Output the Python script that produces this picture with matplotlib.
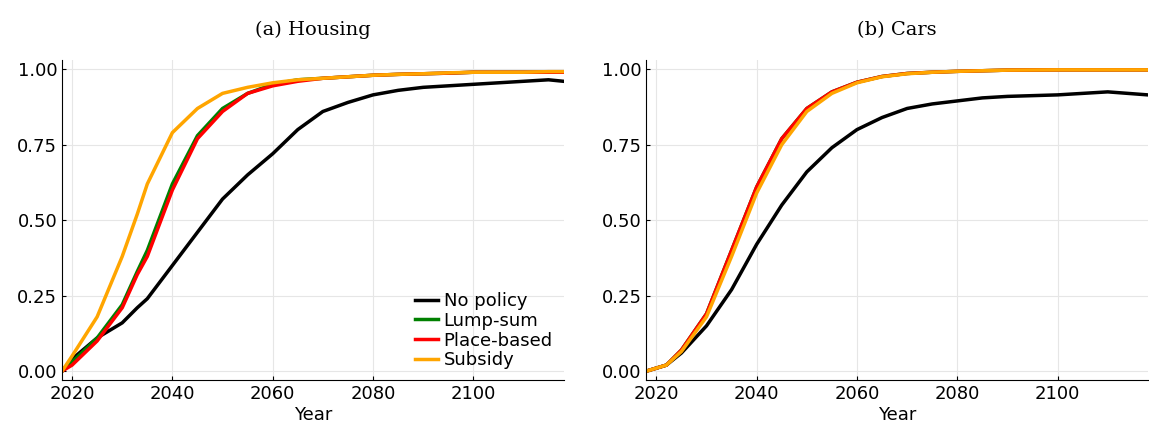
import matplotlib
matplotlib.use("Agg")
import matplotlib.pyplot as plt

# Housing panel
h_years = [2018, 2020, 2025, 2030, 2033, 2035, 2040, 2045, 2050, 2055, 2060, 2065, 2070,
           2075, 2080, 2085, 2090, 2095, 2100, 2105, 2110, 2115, 2118]
h_nopolicy = [0.0, 0.04, 0.11, 0.16, 0.21, 0.24, 0.35, 0.46, 0.57, 0.65, 0.72, 0.80, 0.86,
              0.89, 0.915, 0.93, 0.94, 0.945, 0.95, 0.955, 0.96, 0.965, 0.96]
h_lumpsum = [0.0, 0.03, 0.11, 0.22, 0.33, 0.40, 0.62, 0.78, 0.87, 0.92, 0.95, 0.965, 0.97,
             0.975, 0.98, 0.983, 0.985, 0.987, 0.99, 0.99, 0.99, 0.99, 0.99]
h_place = [0.0, 0.02, 0.10, 0.21, 0.32, 0.38, 0.60, 0.77, 0.86, 0.92, 0.945, 0.96, 0.97,
           0.975, 0.98, 0.983, 0.985, 0.987, 0.99, 0.99, 0.99, 0.99, 0.99]
h_subsidy = [0.0, 0.05, 0.18, 0.38, 0.52, 0.62, 0.79, 0.87, 0.92, 0.94, 0.955, 0.965, 0.97,
             0.975, 0.98, 0.983, 0.985, 0.988, 0.99, 0.99, 0.99, 0.992, 0.992]

# Cars panel
c_years = [2018, 2022, 2025, 2030, 2035, 2040, 2045, 2050, 2055, 2060, 2065, 2070, 2075,
           2080, 2085, 2090, 2100, 2110, 2118]
c_nopolicy = [0.0, 0.02, 0.06, 0.15, 0.27, 0.42, 0.55, 0.66, 0.74, 0.80, 0.84, 0.87, 0.885,
              0.895, 0.905, 0.91, 0.915, 0.925, 0.915]
c_lumpsum = [0.0, 0.02, 0.07, 0.19, 0.40, 0.61, 0.77, 0.87, 0.925, 0.957, 0.976, 0.986,
             0.99, 0.993, 0.995, 0.997, 0.998, 0.998, 0.998]
c_place = c_lumpsum
c_subsidy = [0.0, 0.02, 0.065, 0.18, 0.38, 0.59, 0.75, 0.86, 0.92, 0.955, 0.975, 0.985,
             0.99, 0.993, 0.995, 0.997, 0.998, 0.998, 0.998]

labels = ["No policy", "Lump-sum", "Place-based", "Subsidy"]
colors = ["black", "green", "red", "orange"]

fig, axes = plt.subplots(1, 2, figsize=(11.49, 4.36), dpi=100)
panels = [
    (axes[0], "(a) Housing", h_years, [h_nopolicy, h_lumpsum, h_place, h_subsidy]),
    (axes[1], "(b) Cars", c_years, [c_nopolicy, c_lumpsum, c_place, c_subsidy]),
]
for ax, title, years, series in panels:
    for ys, lab, col in zip(series, labels, colors):
        ax.plot(years, ys, color=col, linewidth=2.5, label=lab)
    ax.set_xlim(2018, 2118)
    ax.set_ylim(-0.03, 1.03)
    ax.set_xticks([2020, 2040, 2060, 2080, 2100])
    ax.set_yticks([0, 0.25, 0.5, 0.75, 1.0])
    ax.set_yticklabels(["0.00", "0.25", "0.50", "0.75", "1.00"])
    ax.grid(True, color="#e6e6e6", linewidth=0.8)
    ax.spines["top"].set_visible(False)
    ax.spines["right"].set_visible(False)
    ax.tick_params(direction="in", labelsize=13, length=3)
    ax.set_xlabel("Year", fontsize=13, labelpad=2)
    ax.set_title(title, fontsize=14, family="DejaVu Serif", pad=18)

axes[0].legend(loc="lower right", frameon=False, fontsize=13, handlelength=1.3,
               handletextpad=0.3, labelspacing=0.1, borderaxespad=0.2)

fig.subplots_adjust(left=0.054, right=0.999, bottom=0.128, top=0.862, wspace=0.165)
fig.savefig("out.png")
